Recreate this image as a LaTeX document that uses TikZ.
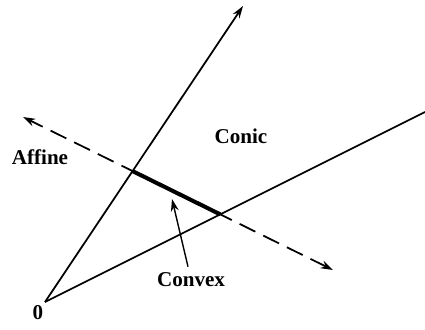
\documentclass[tikz,border=0pt]{standalone}
\usepackage{fontspec}
\setmainfont{Liberation Serif}
\usetikzlibrary{arrows.meta}

\begin{document}
\begin{tikzpicture}[
    x=0.02cm, y=-0.02cm,
    every node/.style={font=\bfseries\fontsize{12}{14}\selectfont},
    ray/.style={line width=1pt},
    affline/.style={line width=1pt, dash pattern=on 10pt off 5pt},
    tip/.style={-{Stealth[length=7pt, width=4.5pt]}},
    hull/.style={line width=2.3pt}
]
    \useasboundingbox (0,0) rectangle (425,329);

    % Cone rays
    \coordinate (orig) at (45,302);
    \coordinate (rayA) at (243,6);
    \coordinate (rayB) at (425,112);
    \draw[ray, tip] (orig) -- (rayA);
    \draw[ray] (orig) -- (rayB);

    % Affine line
    \coordinate (affP) at (23,117);
    \coordinate (affQ) at (333,270);
    \draw[affline, {Stealth[length=7pt, width=4.5pt]}-{Stealth[length=7pt, width=4.5pt]}] (affQ) -- (affP);

    % Convex segment
    \coordinate (cvxA) at (intersection of orig--rayA and affP--affQ);
    \coordinate (cvxB) at (intersection of orig--rayB and affP--affQ);
    \draw[hull] (cvxA) -- (cvxB);

    % Labels
    \node (zero) at (38,313) {0};
    \node (affine) at (40,157) {Affine};
    \node (conic) at (241,136) {Conic};
    \node (convex) at (191,280) {Convex};
    \coordinate (cvxPt) at (172,199);
    \draw[line width=0.8pt, tip] (convex.north) ++(-3,0) -- (cvxPt);

\end{tikzpicture}
\end{document}
